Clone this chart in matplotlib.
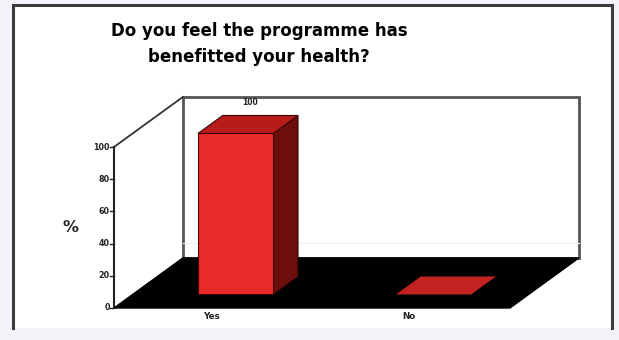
import numpy as np
import matplotlib.pyplot as plt
from matplotlib.patches import Polygon, Rectangle
from matplotlib.lines import Line2D

categories = ["Yes", "No"]
percent = [100, 0]
value_labels = ["100", ""]
yticks = [0, 20, 40, 60, 80, 100]
title = "Do you feel the programme has\nbenefitted your health?"

# oblique projection: full depth shifts (category units, value units)
DX, DY = 0.348, 31.1
bar_w = 0.38
bar_shift = 0.02
d_front, d_back = 0.27, 0.63

front_red = "#ea2a28"
top_red = "#b51c1a"
side_red = "#6e0e0c"


def proj(x, y, d):
    return (x + d * DX, y + d * DY)


fig = plt.figure(figsize=(6.19, 3.40), dpi=100)
fig.patch.set_facecolor("#f3f4f9")

# white panel with a dark frame on left, top and right
W, H = 619, 340
fig.patches.append(Rectangle((13 / W, 12 / H), 599 / W, 323 / H,
                             transform=fig.transFigure, facecolor="white",
                             edgecolor="none", zorder=-5))
for xs, ys in [([13, 13], [12, 335]), ([13, 612], [335, 335]), ([612, 612], [12, 335])]:
    fig.lines.append(Line2D([x / W for x in xs], [y / H for y in ys],
                            transform=fig.transFigure, color="#3c3c3c", lw=2.2,
                            zorder=-4))

fig.text(259 / W, 1 - 44 / H, title, ha="center", va="center",
         fontsize=12, fontweight="bold", family="DejaVu Sans",
         linespacing=1.55)

ax = fig.add_axes([114 / W, 32 / H, 396 / W, 161 / H])
ax.set_xlim(-0.5, len(categories) - 0.5)
ax.set_ylim(0, 100)
ax.axis("off")

x0, x1 = -0.5, len(categories) - 0.5

# floor
floor = [proj(x0, 0, 0), proj(x1, 0, 0), proj(x1, 0, 1), proj(x0, 0, 1)]
ax.add_patch(Polygon(floor, closed=True, facecolor="black", edgecolor="black",
                     lw=1, clip_on=False, zorder=1))

# back wall
wall = [proj(x0, 0, 1), proj(x1, 0, 1), proj(x1, 100, 1), proj(x0, 100, 1)]
ax.add_patch(Polygon(wall, closed=True, facecolor="white", edgecolor="#555555",
                     lw=2, clip_on=False, zorder=0.5))
gx, gy = zip(proj(x0, 9, 1), proj(x1, 9, 1))
ax.plot(gx, gy, color="#eef1f1", lw=0.8, clip_on=False, zorder=0.6)

# left wall edges
lx, ly = zip(proj(x0, 100, 0), proj(x0, 100, 1))
ax.plot(lx, ly, color="#333333", lw=1.3, clip_on=False, zorder=2)
ax.plot([x0, x0], [0, 100], color="#222222", lw=1.5, clip_on=False, zorder=2)

for t in yticks:
    ax.plot([x0 - 0.02, x0], [t, t], color="#222222", lw=1, clip_on=False)
    ax.text(x0 - 0.022, t, str(t), ha="right", va="center", fontsize=5.8,
            fontweight="bold", color="#222222")

ax.text(x0 - 0.222, 50, "%", ha="center", va="center", fontsize=11.5,
        fontweight="bold", color="#222222")

for i, (cat, v, lab) in enumerate(zip(categories, percent, value_labels)):
    l, r = i + bar_shift - bar_w / 2, i + bar_shift + bar_w / 2
    if v > 0:
        front = [proj(l, 0, d_front), proj(r, 0, d_front),
                 proj(r, v, d_front), proj(l, v, d_front)]
        top = [proj(l, v, d_front), proj(r, v, d_front),
               proj(r, v, d_back), proj(l, v, d_back)]
        side = [proj(r, 0, d_front), proj(r, 0, d_back),
                proj(r, v, d_back), proj(r, v, d_front)]
        ax.add_patch(Polygon(side, closed=True, facecolor=side_red,
                             edgecolor="#2a0505", lw=0.8, clip_on=False, zorder=3))
        ax.add_patch(Polygon(front, closed=True, facecolor=front_red,
                             edgecolor="#3a0808", lw=0.8, clip_on=False, zorder=4))
        ax.add_patch(Polygon(top, closed=True, facecolor=top_red,
                             edgecolor="#3a0808", lw=0.8, clip_on=False, zorder=4))
    else:
        flat = [proj(l, 0, d_front), proj(r, 0, d_front),
                proj(r, 0, d_back), proj(l, 0, d_back)]
        ax.add_patch(Polygon(flat, closed=True, facecolor="#c42220",
                             edgecolor="none", clip_on=False, zorder=3))
    if lab:
        tx, ty = proj(i, v, d_back)
        ax.text(tx - 0.03, ty + 8, lab, ha="center", va="center", fontsize=5.5,
                fontweight="bold", color="#222222")
    ax.text(i - 0.01, -5, cat, ha="center", va="center", fontsize=6.3,
            fontweight="bold", color="#222222")

fig.savefig("out.png", dpi=100)
